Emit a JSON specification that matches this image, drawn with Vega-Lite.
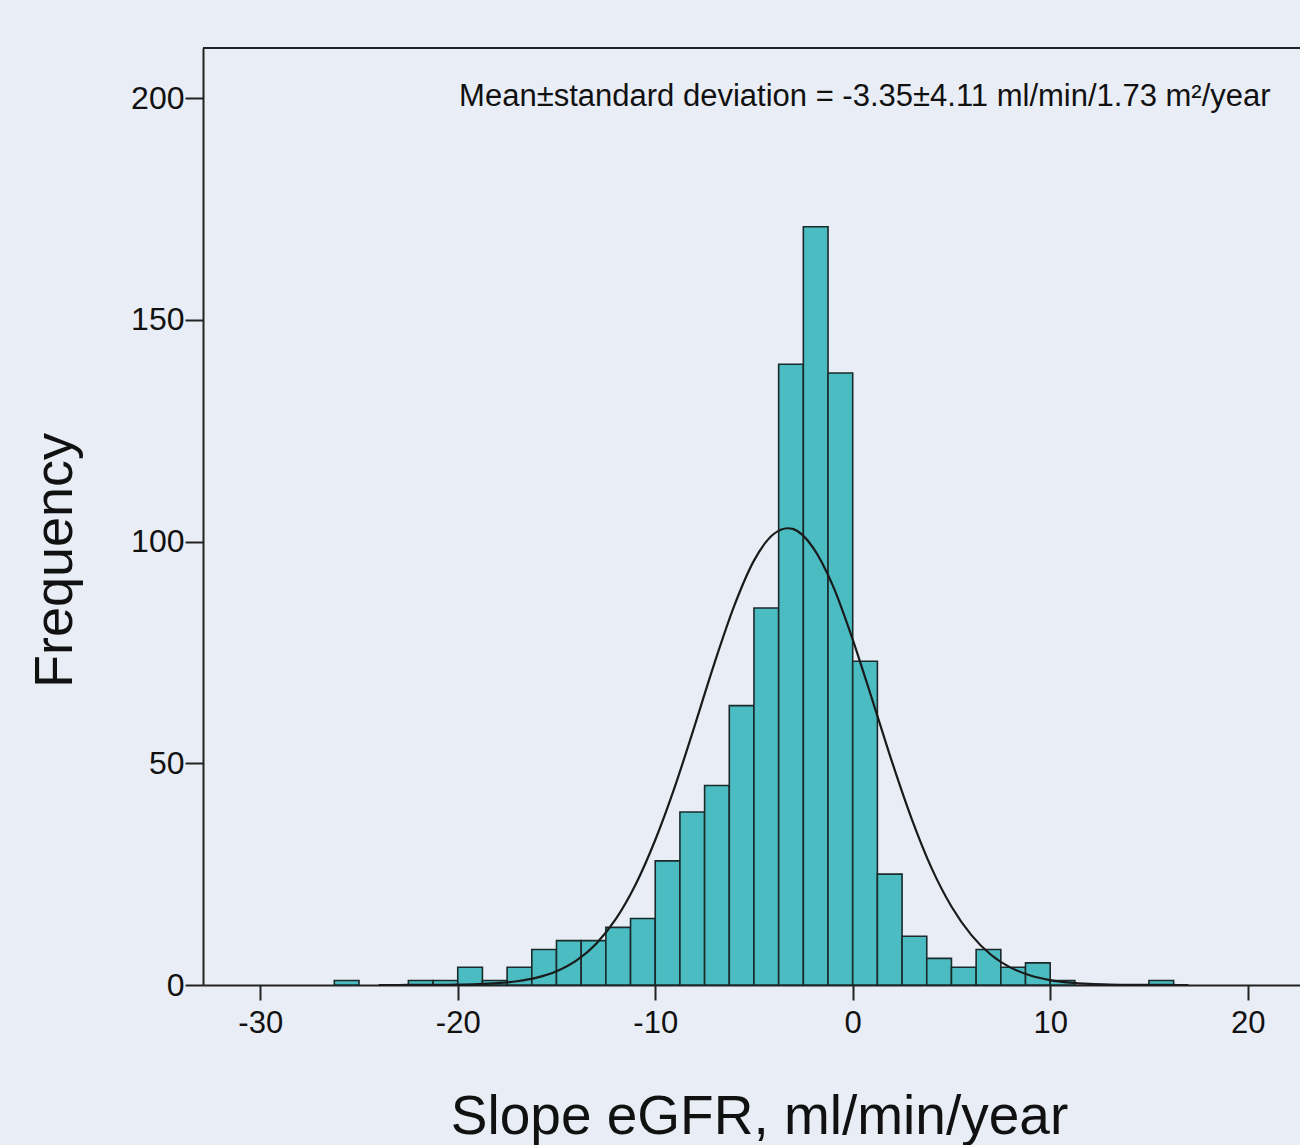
{
  "$schema": "https://vega.github.io/schema/vega-lite/v6.json",
  "width": 1097,
  "height": 937,
  "autosize": {"type": "none"},
  "padding": {"left": 203, "top": 48, "right": 0, "bottom": 160},
  "background": "#e9edf5",
  "config": {
    "view": {"stroke": null},
    "font": "Liberation Sans",
    "axis": {"grid": false, "domainColor": "#222222", "domainWidth": 2, "tickColor": "#222222", "tickWidth": 2, "labelColor": "#111111", "titleColor": "#111111", "labelFont": "Liberation Sans", "titleFont": "Liberation Sans", "titleFontWeight": "normal"}
  },
  "datasets": {
    "bins": [
      {"start": -26.25, "end": -25, "count": 1},
      {"start": -22.5, "end": -21.25, "count": 1},
      {"start": -21.25, "end": -20, "count": 1},
      {"start": -20, "end": -18.75, "count": 4},
      {"start": -18.75, "end": -17.5, "count": 1},
      {"start": -17.5, "end": -16.25, "count": 4},
      {"start": -16.25, "end": -15, "count": 8},
      {"start": -15, "end": -13.75, "count": 10},
      {"start": -13.75, "end": -12.5, "count": 10},
      {"start": -12.5, "end": -11.25, "count": 13},
      {"start": -11.25, "end": -10, "count": 15},
      {"start": -10, "end": -8.75, "count": 28},
      {"start": -8.75, "end": -7.5, "count": 39},
      {"start": -7.5, "end": -6.25, "count": 45},
      {"start": -6.25, "end": -5, "count": 63},
      {"start": -5, "end": -3.75, "count": 85},
      {"start": -3.75, "end": -2.5, "count": 140},
      {"start": -2.5, "end": -1.25, "count": 171},
      {"start": -1.25, "end": 0, "count": 138},
      {"start": 0, "end": 1.25, "count": 73},
      {"start": 1.25, "end": 2.5, "count": 25},
      {"start": 2.5, "end": 3.75, "count": 11},
      {"start": 3.75, "end": 5, "count": 6},
      {"start": 5, "end": 6.25, "count": 4},
      {"start": 6.25, "end": 7.5, "count": 8},
      {"start": 7.5, "end": 8.75, "count": 4},
      {"start": 8.75, "end": 10, "count": 5},
      {"start": 10, "end": 11.25, "count": 1},
      {"start": 15, "end": 16.25, "count": 1}
    ],
    "curve": [
      {"x": -24, "y": 0.002}, {"x": -23, "y": 0.005}, {"x": -22, "y": 0.013}, {"x": -21, "y": 0.034},
      {"x": -20, "y": 0.08}, {"x": -19, "y": 0.19}, {"x": -18, "y": 0.41}, {"x": -17, "y": 0.85},
      {"x": -16, "y": 1.66}, {"x": -15, "y": 3.1}, {"x": -14, "y": 5.5}, {"x": -13, "y": 9.27},
      {"x": -12, "y": 14.84}, {"x": -11, "y": 22.6}, {"x": -10, "y": 32.7}, {"x": -9, "y": 44.8},
      {"x": -8, "y": 58.5}, {"x": -7, "y": 72.6}, {"x": -6, "y": 85.5}, {"x": -5, "y": 95.7},
      {"x": -4, "y": 101.7}, {"x": -3.3, "y": 103}, {"x": -3, "y": 102.8}, {"x": -2, "y": 98.6},
      {"x": -1, "y": 90.0}, {"x": 0, "y": 77.9}, {"x": 1, "y": 64.2}, {"x": 2, "y": 50.2},
      {"x": 3, "y": 37.3}, {"x": 4, "y": 26.3}, {"x": 5, "y": 17.7}, {"x": 6, "y": 11.3},
      {"x": 7, "y": 6.82}, {"x": 8, "y": 3.92}, {"x": 9, "y": 2.14}, {"x": 10, "y": 1.11},
      {"x": 11, "y": 0.55}, {"x": 12, "y": 0.26}, {"x": 13, "y": 0.11}, {"x": 14, "y": 0.05},
      {"x": 15, "y": 0.02}, {"x": 16, "y": 0.008}, {"x": 17, "y": 0.003}
    ],
    "note": [
      {"text": "Mean±standard deviation = -3.35±4.11 ml/min/1.73 m²/year"}
    ]
  },
  "layer": [
    {
      "data": {"name": "bins"},
      "mark": {"type": "rect", "fill": "#4bbcc1", "stroke": "#1b2a2b", "strokeWidth": 1.6},
      "encoding": {
        "x": {
          "field": "start", "type": "quantitative",
          "scale": {"domain": [-32.9, 22.65], "nice": false, "zero": false},
          "axis": {
            "values": [-30, -20, -10, 0, 10, 20],
            "labelExpr": "'' + datum.value",
            "tickSize": 15, "labelFontSize": 31, "labelPadding": 8,
            "title": "Slope eGFR, ml/min/year", "titleFontSize": 55,
            "titleX": 556, "titleY": 148, "titleBaseline": "alphabetic", "titleAlign": "center"
          }
        },
        "x2": {"field": "end"},
        "y": {
          "field": "count", "type": "quantitative",
          "scale": {"domain": [0, 211.3], "nice": false},
          "axis": {
            "values": [0, 50, 100, 150, 200],
            "tickSize": 18, "labelFontSize": 32, "labelPadding": 1,
            "title": "Frequency", "titleFontSize": 54,
            "titleX": -148, "titleY": 512, "titleAlign": "center", "titleBaseline": "middle", "titleAngle": -90
          }
        },
        "y2": {"datum": 0}
      }
    },
    {
      "data": {"name": "curve"},
      "mark": {"type": "line", "color": "#1a1a1a", "strokeWidth": 2.2, "interpolate": "monotone"},
      "encoding": {
        "x": {"field": "x", "type": "quantitative"},
        "y": {"field": "y", "type": "quantitative"}
      }
    },
    {
      "data": {"name": "note"},
      "mark": {"type": "rule", "color": "#222222", "strokeWidth": 2},
      "encoding": {"y": {"datum": 211.3}}
    },
    {
      "data": {"name": "note"},
      "mark": {"type": "text", "align": "right", "baseline": "middle", "fontSize": 31, "font": "Liberation Sans", "color": "#111111"},
      "encoding": {
        "x": {"datum": 21.16},
        "y": {"datum": 200.2},
        "text": {"field": "text"}
      }
    }
  ]
}
